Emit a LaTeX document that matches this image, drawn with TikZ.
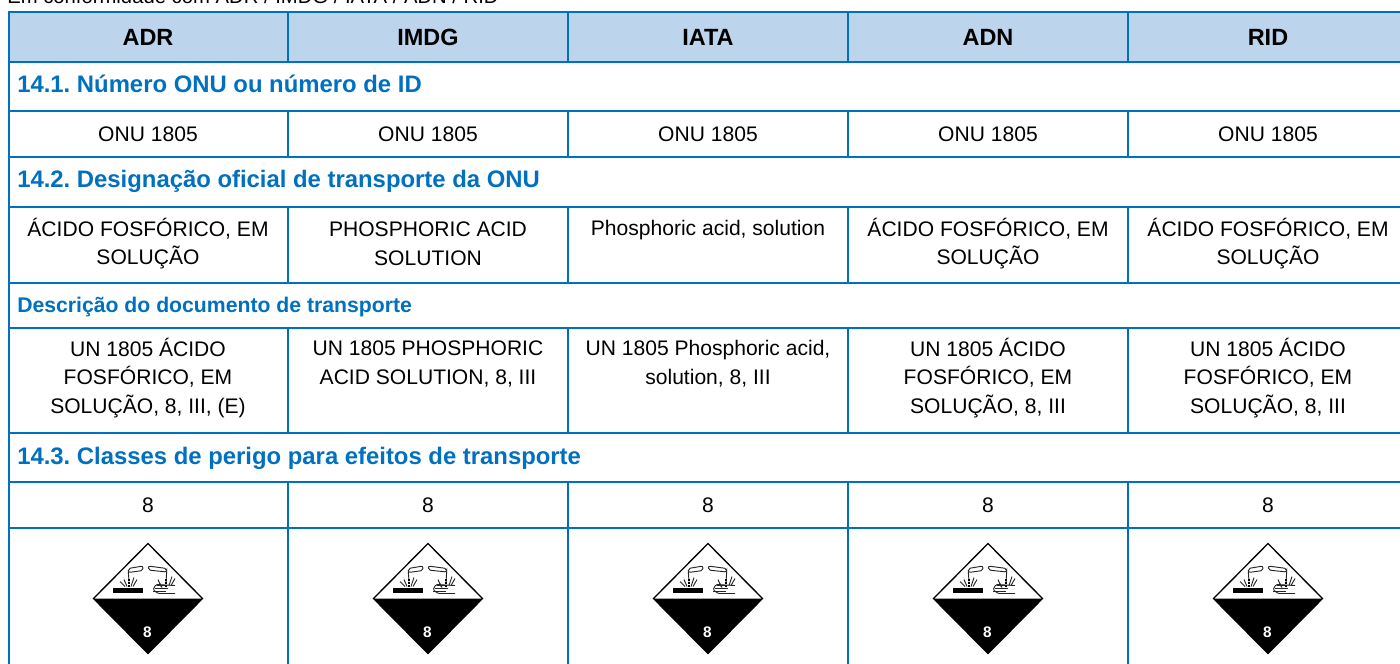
\documentclass[tikz,border=0pt]{standalone}
\usepackage{fontspec}
\setmainfont{Liberation Sans}
\frenchspacing
\definecolor{gridblue}{RGB}{0,112,192}
\definecolor{headblue}{RGB}{189,212,237}
\tikzset{
  px/.style={x=0.75pt,y=-0.75pt},
  gridline/.style={draw=gridblue,line width=1.5pt},
  headtext/.style={font=\fontsize{17.6}{20}\selectfont\bfseries,anchor=base,inner sep=0pt},
  sectext/.style={font=\fontsize{17.9}{20}\selectfont\bfseries,text=gridblue,anchor=base west,inner sep=0pt},
  subtext/.style={font=\fontsize{15.9}{18}\selectfont\bfseries,text=gridblue,anchor=base west,inner sep=0pt},
  celltext/.style={font=\fontsize{15.8}{21.5}\selectfont,align=center,anchor=center,inner sep=0pt},
  toptext/.style={font=\fontsize{15.2}{17}\selectfont,anchor=base west,inner sep=0pt},
  thinpic/.style={draw=black!85,line width=.7pt},
}
\newcommand{\placard}[1]{%
 \begin{scope}[shift={(#1,598.5)}]
  \draw[black,line width=1pt,fill=white,line join=miter] (0,-55)--(54.5,0)--(0,55)--(-54.5,0)--cycle;
  \fill[black] (-54.5,0)--(54.5,0)--(0,55)--cycle;
  \node[font=\fontsize{11.5}{12}\selectfont\bfseries,text=white,inner sep=0pt] at (-0.5,34) {8};
  \fill[black] (-35,-11)rectangle(-5.5,-6);
  % left tube
  \draw[thinpic,rounded corners=1.5pt] (-19.7,-30)--(-5,-32.5)--(-5,-28)--(-19.7,-26)--cycle;
  \draw[thinpic] (-19.7,-27)--(-19,-17);
  \draw[black,line width=1pt,dash pattern=on 1.5pt off 1pt] (-19,-20)--(-19,-12);
  \draw[thinpic] (-24,-19)--(-21,-12) (-14,-21)--(-17,-12) (-11,-19)--(-15,-12) (-28,-17)--(-23,-12);
  % right tube
  \draw[thinpic,rounded corners=1.5pt] (18.7,-30)--(0.3,-32.5)--(0.3,-28.5)--(18.7,-26.5)--cycle;
  \draw[thinpic] (18.7,-27)--(18,-16);
  \draw[black,line width=1pt,dash pattern=on 1.5pt off 1pt] (18,-20)--(18,-12);
  \draw[thinpic] (10,-19)--(13,-12) (24,-22)--(21,-13) (27,-20)--(23,-13) (12,-15)--(14,-11);
  % hand
  \draw[thinpic,rounded corners=1pt] (27,-5)--(10,-5)--(5,-9)--(8,-14)--(27,-13);
  \draw[thinpic] (5,-7.5)--(18,-7.5) (7,-10.5)--(20,-10.5) (9,-13)--(18,-13);
 \end{scope}}
\begin{document}
\begin{tikzpicture}[px]
\useasboundingbox (0,0) rectangle (1400,664);
\fill[headblue] (9,12) rectangle (1400,62);
\foreach \y in {12,62,111,157,207,283,328,433,482,528} \draw[gridline] (8,\y)--(1400,\y);
\draw[gridline] (9,11)--(9,664);
\foreach \x in {288,568,848,1128} {
 \draw[gridline] (\x,12)--(\x,62);
 \draw[gridline] (\x,111)--(\x,157);
 \draw[gridline] (\x,207)--(\x,283);
 \draw[gridline] (\x,328)--(\x,433);
 \draw[gridline] (\x,482)--(\x,664);
}
\node[toptext] (top) at (7,3.5) {Em conformidade com ADR / IMDG / IATA / ADN / RID};
\node[headtext] (h1) at (148,45) {ADR};
\node[headtext] (h2) at (428,45) {IMDG};
\node[headtext] (h3) at (708,45) {IATA};
\node[headtext] (h4) at (988,45) {ADN};
\node[headtext] (h5) at (1268,45) {RID};
\node[sectext] (s1) at (17,92.5) {14.1. Número ONU ou número de ID};
\node[sectext] (s2) at (17,187) {14.2. Designação oficial de transporte da ONU};
\node[subtext] (s3) at (17,312) {Descrição do documento de transporte};
\node[sectext] (s4) at (17,464.5) {14.3. Classes de perigo para efeitos de transporte};
\foreach \x in {148,428,708,988,1268} {
 \node[celltext] at (\x,134) {ONU 1805};
 \node[celltext] at (\x,505) {8};
 \placard{\x}
}
\node[celltext] (n1) at (148,243.5) {ÁCIDO FOSFÓRICO, EM\\SOLUÇÃO};
\node[celltext] (n2) at (428,243.5) {PHOSPHORIC ACID\\SOLUTION};
\node[celltext] (n3) at (708,230) {Phosphoric acid, solution};
\node[celltext] (n4) at (988,243.5) {ÁCIDO FOSFÓRICO, EM\\SOLUÇÃO};
\node[celltext] (n5) at (1268,243.5) {ÁCIDO FOSFÓRICO, EM\\SOLUÇÃO};
\node[celltext] (d1) at (148,378) {UN 1805 ÁCIDO\\FOSFÓRICO, EM\\SOLUÇÃO, 8, III, (E)};
\node[celltext] (d2) at (428,364) {UN 1805 PHOSPHORIC\\ACID SOLUTION, 8, III};
\node[celltext] (d3) at (708,364) {UN 1805 Phosphoric acid,\\solution, 8, III};
\node[celltext] (d4) at (988,378) {UN 1805 ÁCIDO\\FOSFÓRICO, EM\\SOLUÇÃO, 8, III};
\node[celltext] (d5) at (1268,378) {UN 1805 ÁCIDO\\FOSFÓRICO, EM\\SOLUÇÃO, 8, III};
\end{tikzpicture}
\end{document}
